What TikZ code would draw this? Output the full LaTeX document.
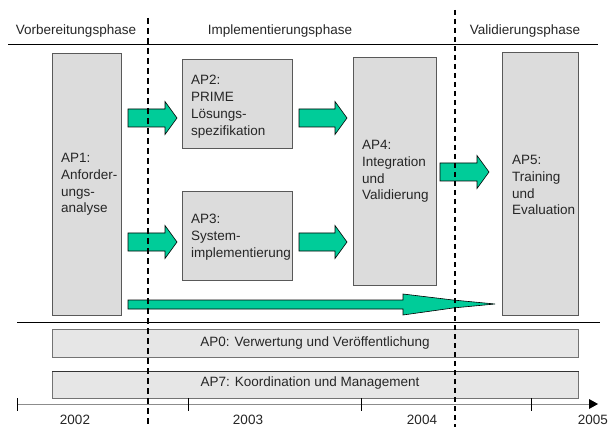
\documentclass[tikz,border=0pt]{standalone}
\usepackage{fontspec}
\setmainfont{Liberation Sans}
\definecolor{boxgray}{HTML}{DCDCDC}
\definecolor{bargray}{HTML}{E6E6E6}
\definecolor{arrowgreen}{HTML}{00CC99}
\begin{document}
\begin{tikzpicture}[x=1pt,y=-1pt,
  box/.style={draw=black!65, fill=boxgray, line width=0.6pt, inner sep=0pt, anchor=north west},
  bar/.style={draw=black!55, fill=bargray, line width=0.6pt, inner sep=0pt, anchor=north west},
  lbl/.style={font=\fontsize{13.5}{16.8}\selectfont, text=black!85, align=left, inner sep=0pt, anchor=north west},
  ctext/.style={font=\fontsize{13.5}{16.8}\selectfont, text=black!85, inner sep=0pt},
  garrow/.style={fill=arrowgreen, draw=black, line width=0.6pt, line join=miter},
  phaseline/.style={dash pattern=on 6pt off 4pt, line width=1.2pt},
  phaseline2/.style={dash pattern=on 5pt off 4pt, line width=1.1pt},
  tick/.style={line width=1pt}]
\useasboundingbox (0,0) rectangle (609,427);
\fill[white] (0,0) rectangle (609,427);

% phase labels
\node[ctext] (ph1) at (76,31) {Vorbereitungsphase};
\node[ctext] (ph2) at (280,31) {Implementierungsphase};
\node[ctext] (ph3) at (525,31) {Validierungsphase};
\coordinate (hl1a) at (8,45);
\coordinate (hl1b) at (598,45);
\draw[line width=1pt] (hl1a) -- (hl1b);

% work package boxes
\node[box, minimum width=69, minimum height=262] (ap1) at (52,53) {};
\node[box, minimum width=110, minimum height=89] (ap2) at (182,59) {};
\node[box, minimum width=110, minimum height=89] (ap3) at (182,191) {};
\node[box, minimum width=83, minimum height=228] (ap4) at (353,57) {};
\node[box, minimum width=76, minimum height=263] (ap5) at (502,52) {};

\node[lbl] (t1) at (61,153) {AP1:\\Anforder-\\ungs-\\analyse};
\node[lbl] (t2) at (191,75) {AP2:\\PRIME\\Lösungs-\\spezifikation};
\node[lbl] (t3) at (191,214) {AP3:\\System-\\implementierung};
\node[lbl] (t4) at (362,140) {AP4:\\Integration\\und\\Validierung};
\node[lbl] (t5) at (512,155) {AP5:\\Training\\und\\Evaluation};

% green block arrows
\foreach \xa/\xh/\xt/\cy in {128/165/177/118, 299/335/347/118, 128/165/177/242, 299/335/347/242, 440/477/489/172}{
  \draw[garrow] (\xa,\cy-9) -- (\xh,\cy-9) -- (\xh,\cy-16.5) -- (\xt,\cy) -- (\xh,\cy+16.5) -- (\xh,\cy+9) -- (\xa,\cy+9) -- cycle;
}
% long arrow
\draw[garrow] (128,300) -- (403,300) -- (403,294) -- (453,300) -- (495,304) -- (453,308) -- (403,315) -- (403,309) -- (128,309) -- cycle;

\coordinate (hl2a) at (17,322);
\coordinate (hl2b) at (600,322);
\draw[line width=1pt] (hl2a) -- (hl2b);

% bars
\node[bar, minimum width=526, minimum height=28] (ap0) at (52,329) {};
\node[ctext] (t0) at (315,343) {AP0: Verwertung und Veröffentlichung};
\node[bar, minimum width=526, minimum height=27] (ap7) at (52,371) {};
\draw[line width=1pt, black!80] (ap7.north west) -- (ap7.north east);
\node[ctext] (t7) at (310,383) {AP7: Koordination und Management};

% time axis
\coordinate (ax0) at (17,404);
\coordinate (ax1) at (597,404);
\draw[black!45, line width=0.8pt] (ax0) -- (ax1);
\fill[black] (589,399) -- (598,404) -- (589,409) -- cycle;
\foreach \x in {17,188,361,531}{
  \draw[tick] (\x,398) -- (\x,411);
}
\node[ctext, anchor=north] (y2) at (75,414.5) {2002};
\node[ctext, anchor=north] (y3) at (248,414.5) {2003};
\node[ctext, anchor=north] (y4) at (422,414.5) {2004};
\node[ctext, anchor=north east] (y5) at (608,414.5) {2005};

% phase boundaries
\coordinate (d1a) at (148,18);
\coordinate (d1b) at (148,427);
\coordinate (d2a) at (455,10);
\coordinate (d2b) at (455,427);
\draw[phaseline] (d1a) -- (d1b);
\draw[phaseline2] (d2a) -- (d2b);
\end{tikzpicture}
\end{document}
